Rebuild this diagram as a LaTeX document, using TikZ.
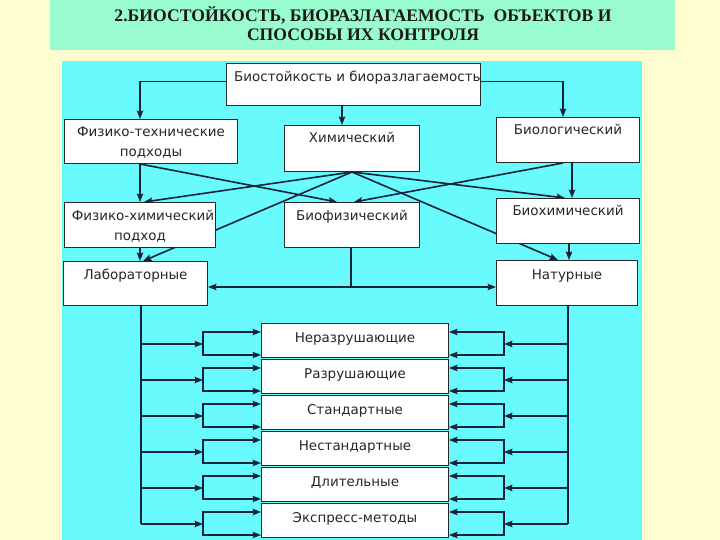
\documentclass[tikz,border=0pt]{standalone}
\usepackage{fontspec}
\setmainfont{DejaVu Sans}
\newfontfamily\titlefont{Liberation Serif}
\usetikzlibrary{arrows.meta}
\definecolor{bgyellow}{RGB}{255,253,208}
\definecolor{titlegreen}{RGB}{153,252,206}
\definecolor{panelcyan}{RGB}{104,250,252}
\definecolor{linecol}{RGB}{20,36,58}
\definecolor{boxline}{RGB}{40,40,40}
\newcommand\boxfont{\fontsize{13.5}{16}\selectfont}
\pgfdeclarelayer{backlayer}
\pgfdeclarelayer{linelayer}
\pgfsetlayers{backlayer,linelayer,main}
\tikzset{
  box/.style={draw=boxline, fill=white, line width=1bp, anchor=north west, inner sep=0pt},
  lbl/.style={anchor=base, inner sep=0pt, font=\boxfont, text=black!85},
  wire/.style={draw=linecol, line width=1.6bp},
  conn/.style={wire, -{Stealth[length=8.5bp,width=6.5bp,inset=1.5bp]}},
}
\begin{document}
\begin{tikzpicture}[x=1bp,y=-1bp]
\useasboundingbox (0,0) rectangle (720,540);
\begin{pgfonlayer}{backlayer}
\fill[bgyellow] (0,0) rectangle (720,540);
\fill[titlegreen] (50,0) rectangle (675,50);
\fill[panelcyan] (62,61) rectangle (642,540);
\end{pgfonlayer}
\node[anchor=base, align=center, inner sep=0pt, font=\titlefont\bfseries\fontsize{17.7}{20}\selectfont, text=black!90] (title) at (363,41)
  {2.БИОСТОЙКОСТЬ, БИОРАЗЛАГАЕМОСТЬ\ \ ОБЪЕКТОВ И\\СПОСОБЫ ИХ КОНТРОЛЯ};

% boxes
\node[box, minimum width=254bp, minimum height=42bp,
  label={[lbl, anchor=base west, xshift=8bp, yshift=-19bp]north west:Биостойкость и биоразлагаемость}] (top) at (226,63) {};
\node[box, minimum width=173bp, minimum height=44bp,
  label={[lbl, yshift=-18bp]north:Физико-технические},
  label={[lbl, yshift=-38bp]north:подходы}] (fiztech) at (64,119) {};
\node[box, minimum width=135bp, minimum height=46bp,
  label={[lbl, yshift=-18bp]north:Химический}] (him) at (284,125) {};
\node[box, minimum width=143bp, minimum height=45bp,
  label={[lbl, yshift=-18bp]north:Биологический}] (biol) at (496,117) {};
\node[box, minimum width=151bp, minimum height=45bp,
  label={[lbl, yshift=-19bp, xshift=3bp]north:Физико-химический},
  label={[lbl, yshift=-38bp]north:подход}] (fizhim) at (64,202) {};
\node[box, minimum width=135bp, minimum height=45bp,
  label={[lbl, yshift=-19bp]north:Биофизический}] (biofiz) at (284,202) {};
\node[box, minimum width=143bp, minimum height=45bp,
  label={[lbl, yshift=-18bp]north:Биохимический}] (biohim) at (496,198) {};
\node[box, minimum width=144bp, minimum height=44bp,
  label={[lbl, yshift=-18bp]north:Лабораторные}] (lab) at (63,261) {};
\node[box, minimum width=141bp, minimum height=45bp,
  label={[lbl, yshift=-19bp]north:Натурные}] (nat) at (496,260) {};
\foreach \i/\t in {0/Неразрушающие,1/Разрушающие,2/Стандартные,3/Нестандартные,4/Длительные,5/Экспресс-методы}{
  \pgfmathsetmacro\T{323+36*\i}
  \node[box, minimum width=187bp, minimum height=34bp,
    label={[lbl, yshift=-19bp]north:\t}] (s\i) at (261,\T) {};
}

\begin{pgfonlayer}{linelayer}
\draw[conn] ([yshift=3bp]top.west) -| (fiztech.north -| 140,0);
\draw[conn] (top.south -| 342,0) -- (him.north -| 342,0);
\draw[conn] ([yshift=3bp]top.east) -| (biol.north -| 563,0);
\draw[conn] (fiztech.south -| 140,0) -- (fizhim.north -| 140,0);
\draw[conn] (fiztech.south -| 140,0) -- (biofiz.north -| 337,0);
\draw[conn] (him.south -| 352,0) -- (fizhim.north -| 144,0);
\draw[conn] (him.south -| 352,0) -- (biohim.north -| 565,0);
\draw[conn] (him.south -| 352,0) -- (lab.north -| 143,0);
\draw[conn] (him.south -| 352,0) -- (nat.north -| 558,0);
\draw[conn] (biol.south -| 563,0) -- (biofiz.north -| 354,0);
\draw[conn] (biol.south -| 572,0) -- (biohim.north -| 572,0);
\draw[conn] (fizhim.south -| 140,0) -- (lab.north -| 140,0);
\draw[conn] (biohim.south -| 569,0) -- (nat.north -| 569,0);
\coordinate (j) at (351,287);
\draw[wire] (biofiz.south -| j) -- (j);
\draw[conn] (j) -- (lab.east |- j);
\draw[conn] (j) -- (nat.west |- j);
\coordinate (lspine) at (141,524);
\coordinate (rspine) at (568,524);
\draw[wire] (lab.south -| lspine) -- (lspine);
\draw[wire] (nat.south -| rspine) -- (rspine);
\foreach \i in {0,...,5}{
  \pgfmathsetmacro\M{344+36*\i}
  \pgfmathsetmacro\A{332+36*\i}
  \pgfmathsetmacro\B{355+36*\i}
  \draw[conn] (141,\M) -- (203,\M);
  \draw[conn] (203,\M) |- (s\i.west |- 0,\A);
  \draw[conn] (203,\M) |- (s\i.west |- 0,\B);
  \draw[conn] (568,\M) -- (504,\M);
  \draw[conn] (504,\M) |- (s\i.east |- 0,\A);
  \draw[conn] (504,\M) |- (s\i.east |- 0,\B);
}
\end{pgfonlayer}
\end{tikzpicture}
\end{document}
